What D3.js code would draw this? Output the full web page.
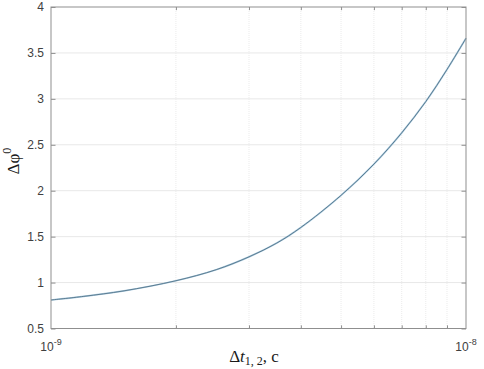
<!DOCTYPE html>
<html>
<head>
<meta charset="utf-8">
<script src="https://cdn.jsdelivr.net/npm/d3@7"></script>
<style>
  body { margin: 0; background: #fff; }
  svg { display: block; }
</style>
</head>
<body>
<div id="chart"></div>
<script>
// curve
var dt_values = [1e-9, 1.2e-9, 1.5e-9, 2e-9, 2.5e-9, 3e-9, 3.5e-9, 4e-9, 5e-9, 6e-9, 7e-9, 8e-9, 9e-9, 1e-8];
var phi_values = [0.81, 0.85, 0.91, 1.02, 1.14, 1.28, 1.43, 1.60, 1.95, 2.29, 2.63, 2.97, 3.32, 3.66];

var x_major_ticks = [1e-9, 1e-8];
var x_major_exps = ["-9", "-8"];
var x_minor_ticks = [2e-9, 3e-9, 4e-9, 5e-9, 6e-9, 7e-9, 8e-9, 9e-9];
var y_ticks = [0.5, 1, 1.5, 2, 2.5, 3, 3.5, 4];
var y_tick_labels = ["0.5", "1", "1.5", "2", "2.5", "3", "3.5", "4"];

const margin = { top: 7, bottom: 40.5, left: 51, right: 18 };
const W = 484, H = 369;
const width = W - margin.left - margin.right;
const height = H - margin.top - margin.bottom;

const svg = d3.select("#chart")
    .append("svg")
    .attr("width", W)
    .attr("height", H);

const canvas = svg.append("g")
    .attr("transform", `translate(${margin.left},${margin.top})`);

var xScale = d3.scaleLog().domain([1e-9, 1e-8]).range([0, width]);
var yScale = d3.scaleLinear().domain([0.5, 4]).range([height, 0]);

// grid
canvas.append("g")
    .selectAll("line")
    .data(y_ticks.slice(1, -1))
    .join("line")
    .attr("x1", 0).attr("x2", width)
    .attr("y1", d => yScale(d)).attr("y2", d => yScale(d))
    .attr("stroke", "#e8e8e8")
    .attr("stroke-width", 1);

canvas.append("g")
    .selectAll("line")
    .data(x_minor_ticks)
    .join("line")
    .attr("x1", d => xScale(d)).attr("x2", d => xScale(d))
    .attr("y1", 0).attr("y2", height)
    .attr("stroke", "#ebebeb")
    .attr("stroke-width", 1)
    .attr("stroke-dasharray", "1,1");

// curve
var line = d3.line()
    .x((d, i) => xScale(dt_values[i]))
    .y(d => yScale(d))
    .curve(d3.curveCatmullRom.alpha(0.5));

canvas.append("path")
    .datum(phi_values)
    .attr("fill", "none")
    .attr("stroke", "#a9cbe0")
    .attr("stroke-width", 1.7)
    .attr("d", line);

canvas.append("path")
    .datum(phi_values)
    .attr("fill", "none")
    .attr("stroke", "#4a687c")
    .attr("stroke-width", 0.8)
    .attr("d", line);

// axes (MATLAB style, ticks inside)
var axisColor = "#8f8f8f";
var tickLen = 4.5;

canvas.append("g")
    .attr("transform", `translate(0,${height})`)
    .call(d3.axisBottom(xScale).tickValues(x_minor_ticks).tickSize(-tickLen * 0.7).tickFormat(""))
    .call(g => g.select(".domain").remove());
canvas.append("g")
    .call(d3.axisTop(xScale).tickValues(x_minor_ticks).tickSize(-tickLen * 0.7).tickFormat(""))
    .call(g => g.select(".domain").remove());
canvas.append("g")
    .call(d3.axisLeft(yScale).tickValues(y_ticks).tickSize(-tickLen).tickFormat(""))
    .call(g => g.select(".domain").remove());
canvas.append("g")
    .attr("transform", `translate(${width},0)`)
    .call(d3.axisRight(yScale).tickValues(y_ticks).tickSize(-tickLen).tickFormat(""))
    .call(g => g.select(".domain").remove());

canvas.selectAll(".tick line").attr("stroke", axisColor);

canvas.append("rect")
    .attr("x", 0).attr("y", 0)
    .attr("width", width).attr("height", height)
    .attr("fill", "none")
    .attr("stroke", axisColor)
    .attr("stroke-width", 1);

// tick labels
canvas.append("g")
    .selectAll("text")
    .data(y_ticks)
    .join("text")
    .attr("x", -7)
    .attr("y", d => yScale(d))
    .attr("dy", "0.36em")
    .attr("text-anchor", "end")
    .attr("font-family", "Liberation Sans, Arial, sans-serif")
    .attr("font-size", 12)
    .attr("fill", "#404040")
    .text((d, i) => y_tick_labels[i]);

var xl = canvas.append("g")
    .selectAll("text")
    .data(x_major_ticks)
    .join("text")
    .attr("x", d => xScale(d))
    .attr("y", height + 22.5)
    .attr("text-anchor", "middle")
    .attr("font-family", "Liberation Sans, Arial, sans-serif")
    .attr("font-size", 12)
    .attr("fill", "#404040");
xl.append("tspan").text("10");
xl.append("tspan")
    .attr("font-size", 9)
    .attr("dy", -6)
    .text((d, i) => x_major_exps[i]);

// axis titles
var xt = svg.append("text")
    .attr("x", 254)
    .attr("y", 361.5)
    .attr("text-anchor", "middle")
    .attr("font-family", "Liberation Serif, Times New Roman, serif")
    .attr("font-size", 17)
    .attr("fill", "#1a1a1a");
xt.append("tspan").text("Δ");
xt.append("tspan").attr("font-style", "italic").text("t");
xt.append("tspan").attr("font-size", 12).attr("dy", 3).text("1, 2");
xt.append("tspan").attr("dy", -3).text(", c");

var yt = svg.append("text")
    .attr("transform", "translate(18.5,161) rotate(-90)")
    .attr("text-anchor", "middle")
    .attr("font-family", "Liberation Serif, Times New Roman, serif")
    .attr("font-size", 17)
    .attr("fill", "#1a1a1a");
yt.append("tspan").text("Δφ");
yt.append("tspan").attr("font-size", 12).attr("dy", -8).text("0");
</script>
</body>
</html>
